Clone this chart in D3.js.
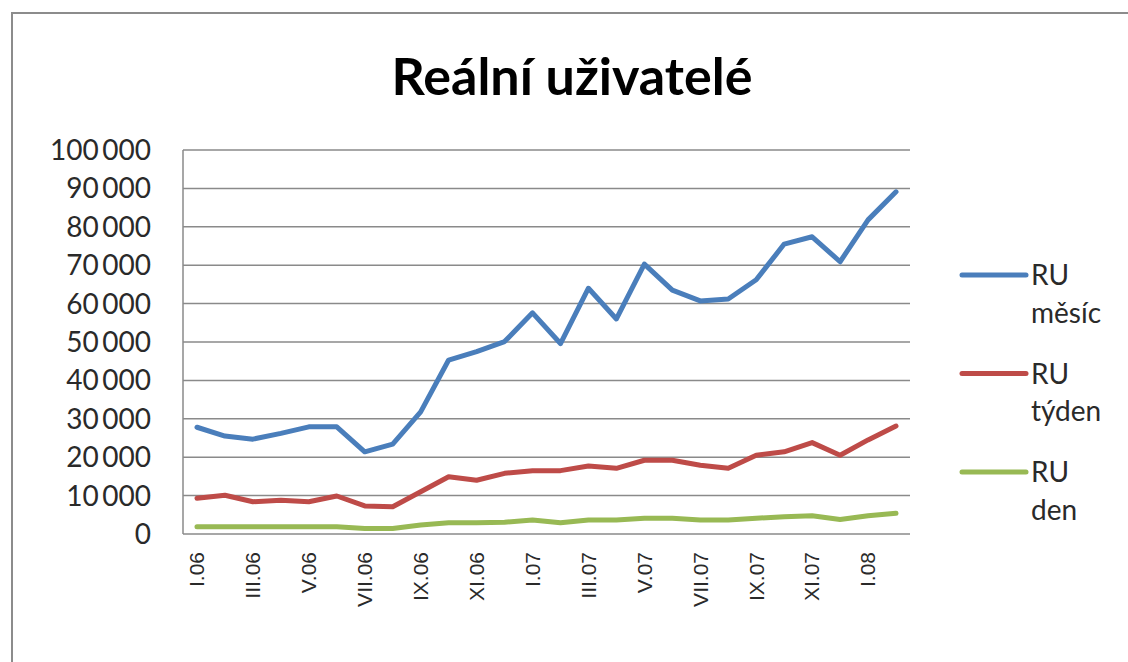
<!DOCTYPE html>
<html>
<head>
<meta charset="utf-8">
<script src="https://cdn.jsdelivr.net/npm/d3@7"></script>
<style>
  html, body { margin: 0; padding: 0; background: #fff; }
  svg { display: block; }
</style>
</head>
<body>
<svg id="viz" width="1128" height="662"></svg>
<script>
// Months I.06 .. II.08
const months = ['I.06','II.06','III.06','IV.06','V.06','VI.06','VII.06','VIII.06','IX.06','X.06','XI.06','XII.06',
  'I.07','II.07','III.07','IV.07','V.07','VI.07','VII.07','VIII.07','IX.07','X.07','XI.07','XII.07','I.08','II.08'];

const ruMesic = [27800, 25500, 24700, 26200, 27900, 27900, 21400, 23400, 31800, 45300, 47500, 50100,
  57600, 49600, 64000, 56000, 70300, 63500, 60700, 61200, 66200, 75500, 77400, 70900, 81800, 89100];
const ruTyden = [9300, 10100, 8400, 8800, 8400, 9900, 7300, 7100, 11000, 14900, 14000, 15800,
  16500, 16500, 17700, 17100, 19200, 19200, 17900, 17100, 20500, 21400, 23800, 20500, 24500, 28100];
const ruDen = [1900, 1900, 1900, 1900, 1900, 1900, 1450, 1450, 2350, 2950, 2950, 3050,
  3650, 2950, 3650, 3650, 4100, 4100, 3650, 3650, 4100, 4500, 4750, 3800, 4750, 5400];

const yTicks = [0, 10000, 20000, 30000, 40000, 50000, 60000, 70000, 80000, 90000, 100000];

const series = [
  { name: ['RU', 'měsíc'], values: ruMesic, color: '#4a7ebb' },
  { name: ['RU', 'týden'], values: ruTyden, color: '#be4b48' },
  { name: ['RU', 'den'], values: ruDen, color: '#98b954' }
];

const svg = d3.select('#viz');
const plot = { left: 183, right: 910, top: 150, bottom: 534 };
const font = 'Lato, "Noto Sans", sans-serif';

// outer chart frame
svg.append('rect').attr('x', 12).attr('y', 13).attr('width', 1130).attr('height', 660)
  .attr('fill', '#fff').attr('stroke', '#8c8c8c').attr('stroke-width', 2);

svg.append('text').attr('x', 572).attr('y', 95).attr('text-anchor', 'middle')
  .style('font-family', font).style('font-weight', '700')
  .style('font-size', '52px').style('fill', '#000').text('Reální uživatelé');

const x = d3.scaleBand().domain(months).range([plot.left, plot.right]);
const y = d3.scaleLinear().domain([0, 100000]).range([plot.bottom, plot.top]);

const fmt = v => d3.format(',')(v).replace(/,/g, '\u2009');

// gridlines
svg.append('g').selectAll('line').data(yTicks).enter().append('line')
  .attr('x1', plot.left).attr('x2', plot.right)
  .attr('y1', d => y(d)).attr('y2', d => y(d))
  .attr('stroke', '#8a8a8a').attr('stroke-width', 1.5);

// left axis line
svg.append('line').attr('x1', plot.left).attr('x2', plot.left).attr('y1', plot.top).attr('y2', plot.bottom)
  .attr('stroke', '#8a8a8a').attr('stroke-width', 1.5);

// y labels
svg.append('g').selectAll('text').data(yTicks).enter().append('text')
  .attr('x', 151).attr('y', d => y(d)).attr('dy', '0.36em').attr('text-anchor', 'end')
  .style('font-family', font).style('font-size', '28px').style('fill', '#2a2a2a')
  .text(fmt);

// x labels (every second month)
svg.append('g').selectAll('text').data(months.filter((m, i) => i % 2 === 0)).enter().append('text')
  .attr('transform', d => `translate(${x(d) + x.bandwidth() / 2},552) rotate(-90)`)
  .attr('text-anchor', 'end').attr('dy', '0.35em')
  .style('font-family', '"Liberation Sans", Arial, sans-serif').style('font-size', '21px').style('fill', '#2a2a2a')
  .text(d => d);

const line = d3.line()
  .x((d, i) => x(months[i]) + x.bandwidth() / 2)
  .y(d => y(d));

series.forEach(s => {
  svg.append('path').datum(s.values).attr('d', line)
    .attr('fill', 'none').attr('stroke', s.color).attr('stroke-width', 5)
    .attr('stroke-linejoin', 'round').attr('stroke-linecap', 'round');
});

// legend
const legend = svg.append('g');
series.forEach((s, i) => {
  const ly = 275 + i * 98.5;
  legend.append('line').attr('x1', 962).attr('x2', 1026).attr('y1', ly).attr('y2', ly)
    .attr('stroke', s.color).attr('stroke-width', 5).attr('stroke-linecap', 'round');
  legend.append('text').attr('x', 1031).attr('y', ly)
    .style('font-family', font).style('font-size', '28px').style('fill', '#2a2a2a')
    .selectAll('tspan').data(s.name).enter().append('tspan')
    .attr('x', 1031).attr('dy', (d, j) => j === 0 ? '0.36em' : '1.35em').text(d => d);
});
</script>
</body>
</html>
